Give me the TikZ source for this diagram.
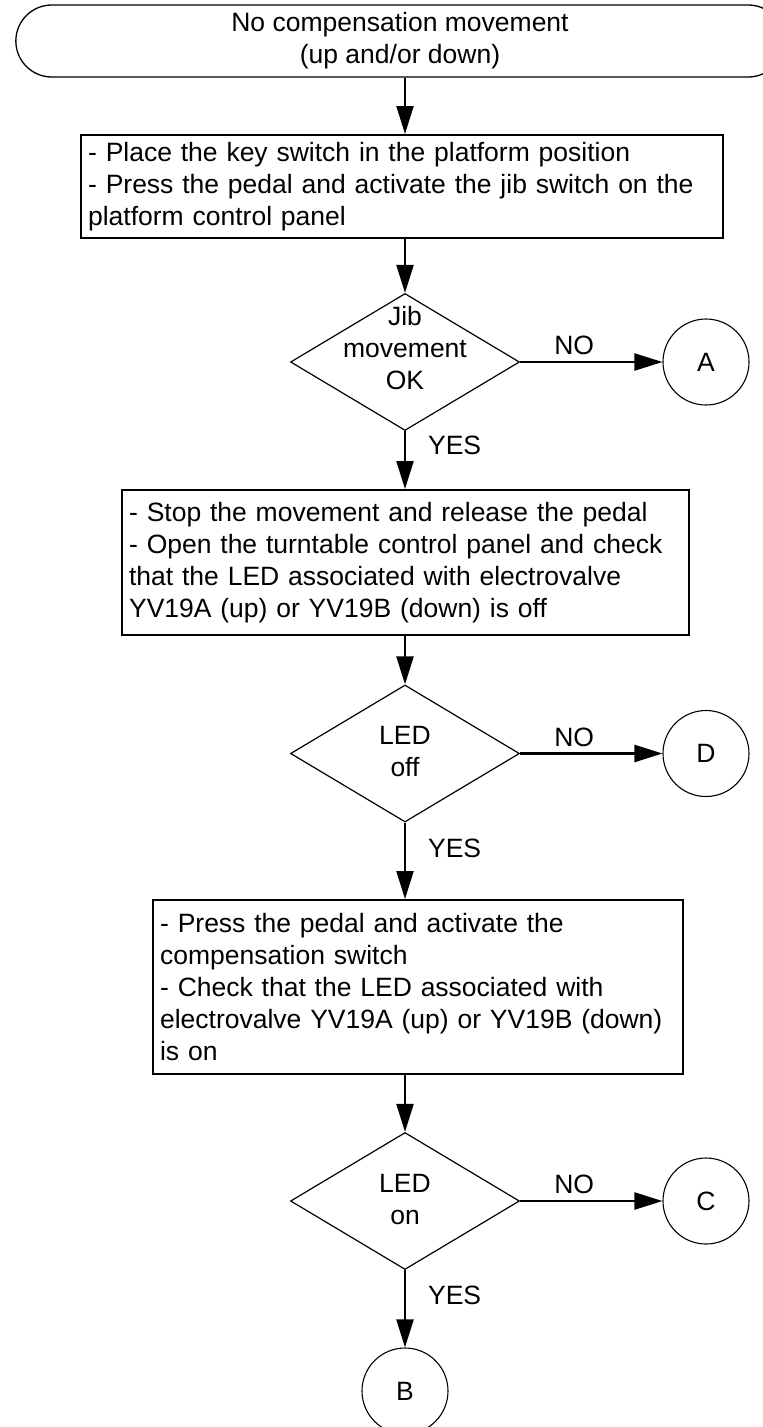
\documentclass[tikz,border=0pt]{standalone}
\usepackage{fontspec}
\setmainfont{Liberation Sans}
\usetikzlibrary{shapes.geometric,shapes.misc,arrows.meta}

\tikzset{
    txt/.style={font=\fontsize{26.5}{32}\selectfont},
    terminal/.style={txt, rounded rectangle, draw, line width=1.3pt, minimum width=775pt, minimum height=72pt, align=center},
    stepbox/.style={txt, draw, line width=2.2pt, align=left, anchor=north west, inner xsep=7pt, inner ysep=0pt},
    decision/.style={diamond, draw, line width=1.2pt, minimum width=229pt, minimum height=137pt, inner sep=0pt},
    connector/.style={txt, circle, draw, line width=1.1pt, minimum size=86pt, inner sep=0pt},
    flow/.style={line width=2.2pt, -{Triangle[length=28pt,width=17pt]}},
    answer/.style={txt, inner sep=2pt},
}

\begin{document}
\begin{tikzpicture}[x=1pt, y=-1pt]
    \useasboundingbox (0,0) rectangle (763,1427);

    % Début
    \node[terminal] (start) at (400,41) {No compensation movement\\(up and/or down)};

    % Étapes
    \node[stepbox, text width=628pt, minimum height=103pt] (step1) at (80,134)
        {- Place the key switch in the platform position\\- Press the pedal and activate the jib switch on the\\platform control panel};
    \node[stepbox, text width=553pt, minimum height=145pt] (step2) at (121,489)
        {- Stop the movement and release the pedal\\- Open the turntable control panel and check\\that the LED associated with electrovalve\\YV19A (up) or YV19B (down) is off};
    \node[stepbox, text width=516pt, minimum height=174pt] (step3) at (152,899)
        {- Press the pedal and activate the\\compensation switch\\- Check that the LED associated with\\electrovalve YV19A (up) or YV19B (down)\\is on};

    % Tests
    \node[decision, label={[txt, align=center, yshift=14pt]center:Jib\\movement\\OK}] (jib) at (405,362) {};
    \node[decision, label={[txt, align=center, yshift=2pt]center:LED\\off}] (ledoff) at (405,753.5) {};
    \node[decision, label={[txt, align=center, yshift=2pt]center:LED\\on}] (ledon) at (405,1201) {};

    % Renvois
    \node[connector] (A) at (706,362) {A};
    \node[connector] (D) at (706,753.5) {D};
    \node[connector] (C) at (706,1201) {C};
    \node[connector] (B) at (405,1391) {B};

    % Flèches
    \draw[flow] (start.south -| jib) -- (step1.north -| jib);
    \draw[flow] (step1.south -| jib) -- (jib.north);
    \draw[flow] (jib.south) -- node[answer, right=20pt, pos=0.24] {YES} (step2.north -| jib);
    \draw[flow] (jib.east) -- node[answer, above=4pt, pos=0.38] {NO} (A.west);
    \draw[flow] (step2.south -| ledoff) -- (ledoff.north);
    \draw[flow] (ledoff.south) -- node[answer, right=20pt, pos=0.34] {YES} (step3.north -| ledoff);
    \draw[flow] (ledoff.east) -- node[answer, above=4pt, pos=0.38] {NO} (D.west);
    \draw[flow] (step3.south -| ledon) -- (ledon.north);
    \draw[flow] (ledon.south) -- node[answer, right=20pt, pos=0.33] {YES} (B.north);
    \draw[flow] (ledon.east) -- node[answer, above=4pt, pos=0.38] {NO} (C.west);
\end{tikzpicture}
\end{document}
